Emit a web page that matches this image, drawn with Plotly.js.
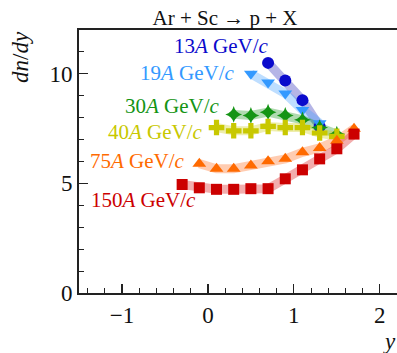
<!DOCTYPE html>
<html>
<head>
<meta charset="utf-8">
<script src="https://cdn.plot.ly/plotly-3.0.1.min.js"></script>
<style>
html,body{margin:0;padding:0;background:#fff;}
#chart{width:397px;height:353px;}
#chart svg text{font-family:"Liberation Serif","DejaVu Serif",serif !important;}
</style>
</head>
<body>
<div id="chart"></div>
<script>
// Data (rapidity y, dn/dy)
const seriesNames = ["13A", "19A", "30A", "40A", "75A", "150A"];
const labels = ["13<i>A</i> GeV/<i>c</i>", "19<i>A</i> GeV/<i>c</i>", "30<i>A</i> GeV/<i>c</i>",
                "40<i>A</i> GeV/<i>c</i>", "75<i>A</i> GeV/<i>c</i>", "150<i>A</i> GeV/<i>c</i>"];
const x13 = [0.7, 0.9, 1.1, 1.3];
const y13 = [10.5, 9.7, 8.8, 7.6];
const x19 = [0.5, 0.7, 0.9, 1.1, 1.3];
const y19 = [10.0, 9.6, 9.1, 8.35, 7.75];
const x30 = [0.3, 0.5, 0.7, 0.9, 1.1, 1.3, 1.5];
const y30 = [8.15, 8.1, 8.25, 8.1, 7.9, 7.55, 7.25];
const x40 = [0.1, 0.3, 0.5, 0.7, 0.9, 1.1, 1.3, 1.5];
const y40 = [7.55, 7.4, 7.4, 7.6, 7.55, 7.55, 7.3, 7.15];
const x75 = [-0.1, 0.1, 0.3, 0.5, 0.7, 0.9, 1.1, 1.3, 1.5, 1.7];
const y75 = [5.9, 5.67, 5.67, 5.82, 6.01, 6.12, 6.42, 6.62, 6.95, 7.5];
const x150 = [-0.3, -0.1, 0.1, 0.3, 0.5, 0.7, 0.9, 1.1, 1.3, 1.5, 1.7];
const y150 = [4.95, 4.8, 4.73, 4.73, 4.76, 4.76, 5.21, 5.62, 6.12, 6.58, 7.25];

const xs = [x13, x19, x30, x40, x75, x150];
const ys = [y13, y19, y30, y40, y75, y150];
const colors = ["#0a0acc", "#3399ff", "#149414", "#c8c800", "#ff6a00", "#cc0000"];
const bandColors = ["rgba(60,60,190,0.38)", "rgba(70,160,255,0.35)", "rgba(30,150,30,0.35)",
                    "rgba(210,210,40,0.38)", "rgba(255,120,50,0.38)", "rgba(220,40,40,0.38)"];
const symbols = ["circle", "triangle-down", "star-diamond", "cross", "triangle-up", "square"];
const sizes = [12, 12, 12, 13, 12, 11];
// label anchor positions (right edge, vertical middle) in data coordinates
const labX = [0.73, 0.34, 0.165, -0.03, -0.245, -0.115];
const labY = [11.27, 10.06, 8.55, 7.33, 6.01, 4.23];

const serif = "Liberation Serif";
const traces = [];
for (let i = 0; i < xs.length; i++) {
  traces.push({x: xs[i], y: ys[i], type: "scatter", mode: "lines",
    line: {color: bandColors[i], width: 9}, hoverinfo: "skip", showlegend: false});
}
for (let i = 0; i < xs.length; i++) {
  traces.push({x: xs[i], y: ys[i], type: "scatter", mode: "markers", name: seriesNames[i],
    marker: {color: colors[i], symbol: symbols[i], size: sizes[i], line: {width: 0}}, showlegend: false});
}
const annotations = labels.map((t, i) => ({
  x: labX[i], y: labY[i], xref: "x", yref: "y", text: t, showarrow: false,
  xanchor: "right", yanchor: "middle", font: {family: serif, size: 21, color: colors[i]}
}));

// pixel -> plot-area paper fraction helpers
const W = 397 - 79, H = 353 - 30 - 60;
const fx = px => (px - 79) / W;
const fy = py => 1 - (py - 30) / H;

annotations.push(
  {x: fx(20), y: fy(57), xref: "paper", yref: "paper", text: "<i>dn</i>/<i>dy</i>",
   showarrow: false, textangle: -90, xanchor: "center", yanchor: "middle",
   font: {family: serif, size: 23, color: "#111"}},
  {x: fx(389), y: fy(341), xref: "paper", yref: "paper", text: "<i>y</i>",
   showarrow: false, xanchor: "center", yanchor: "middle",
   font: {family: serif, size: 23, color: "#111"}}
);

const layout = {
  width: 397, height: 353,
  margin: {l: 79, r: 0, t: 30, b: 60},
  paper_bgcolor: "#fff", plot_bgcolor: "#fff",
  font: {family: serif},
  title: {text: "Ar + Sc → p + X", font: {family: serif, size: 21, color: "#111"},
          x: 225 / 397, xref: "container", xanchor: "center", y: 1 - 18 / 353, yref: "container", yanchor: "middle"},
  xaxis: {range: [-1.5, 2.2], dtick: 1, tick0: 0, ticks: "inside", ticklen: 9, tickwidth: 1.2,
          tickcolor: "#222", showline: true, linecolor: "#222", linewidth: 2, mirror: true,
          showgrid: false, zeroline: false, tickfont: {family: serif, size: 23, color: "#111"},
          minor: {dtick: 0.2, ticks: "inside", ticklen: 5, tickcolor: "#222", tickwidth: 1, showgrid: false}},
  yaxis: {range: [0, 12], dtick: 5, tick0: 0, ticks: "inside", ticklen: 9, tickwidth: 1.2,
          tickcolor: "#222", showline: true, linecolor: "#222", linewidth: 2, mirror: false,
          showgrid: false, zeroline: false, tickfont: {family: serif, size: 23, color: "#111"},
          minor: {dtick: 1, ticks: "inside", ticklen: 5, tickcolor: "#222", tickwidth: 1, showgrid: false}},
  annotations: annotations
};
Plotly.newPlot("chart", traces, layout, {displayModeBar: false, staticPlot: true});
</script>
</body>
</html>
